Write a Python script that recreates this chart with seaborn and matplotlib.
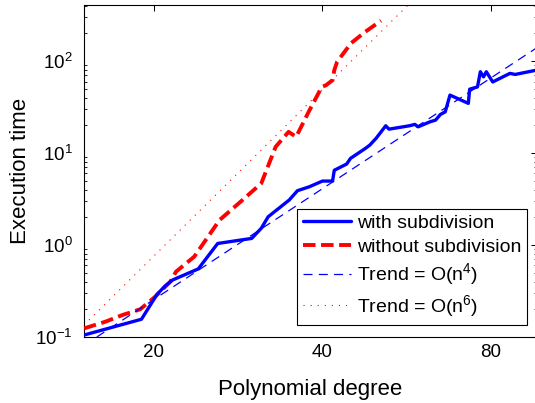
import numpy as np
import pandas as pd
import matplotlib
matplotlib.use('Agg')
import matplotlib.pyplot as plt
import seaborn as sns
from matplotlib.ticker import FixedLocator, FixedFormatter, LogLocator, NullLocator, NullFormatter

# ---- data ----
with_x = [15.0, 19.0, 20.25, 20.95, 21.6, 24.0, 26.0, 29.9, 31.1, 32.0,
          34.9, 36.1, 37.9, 40.0, 41.7, 42.0, 44.2, 44.9, 47.7, 48.6,
          49.9, 51.9, 52.6, 57.2, 58.5, 59.3, 62.3, 63.7, 65.0, 66.3,
          67.6, 72.9, 73.3, 75.7, 76.6, 77.6, 78.5, 80.6, 86.5, 88.4, 96.5]
with_y = [0.105, 0.156, 0.29, 0.36, 0.417, 0.55, 1.04, 1.18, 1.52, 2.03,
          3.09, 3.9, 4.3, 4.96, 4.96, 6.5, 7.6, 8.76, 11.2, 12.2,
          14.5, 19.8, 18.2, 19.8, 20.5, 19.3, 21.9, 22.8, 26.3, 28.1,
          42.7, 34.7, 49.5, 52.4, 76.6, 67.4, 76.6, 59.3, 73.5, 71.6, 79.7]

without_x = [15.0, 16.4, 17.6, 18.9, 20.1, 21.4, 21.9, 23.6, 26.2, 28.8,
             31.1, 33.0, 34.8, 35.9, 37.8, 39.9, 40.6, 41.7, 42.0, 42.5,
             44.5, 44.9, 47.7, 50.9]
without_y = [0.124, 0.147, 0.174, 0.2, 0.274, 0.4, 0.513, 0.746, 1.87, 3.09,
             4.68, 11.7, 17.0, 15.0, 28.1, 52.4, 54.7, 62.0, 79.7, 98.5,
             143, 155, 208, 275]

trend4_x = [15.0, 96.5]
trend4_y = [0.081, 139.0]
trend6_x = [15.0, 60.0]
trend6_y = [0.135, 560.0]

x_ticks = [20, 40, 80]
x_tick_labels = ['20', '40', '80']
series_labels = ['with subdivision', 'without subdivision',
                 'Trend = O(n$^4$)', 'Trend = O(n$^6$)']

# ---- style ----
sns.set_style('white')
plt.rcParams['font.family'] = ['Liberation Sans', 'DejaVu Sans']
plt.rcParams['mathtext.fontset'] = 'custom'
plt.rcParams['mathtext.rm'] = 'Liberation Sans'
plt.rcParams['mathtext.it'] = 'Liberation Sans:italic'
plt.rcParams['mathtext.default'] = 'regular'
plt.rcParams['lines.scale_dashes'] = False
plt.rcParams['text.color'] = 'black'
plt.rcParams['axes.labelcolor'] = 'black'
plt.rcParams['xtick.color'] = 'black'
plt.rcParams['ytick.color'] = 'black'

fig = plt.figure(figsize=(5.35, 4.03), dpi=100)
W, H = 535, 403
ax = fig.add_axes([84 / W, 66 / H, (536.5 - 84) / W, 332 / H])

df_with = pd.DataFrame({'x': with_x, 'y': with_y})
df_without = pd.DataFrame({'x': without_x, 'y': without_y})
df_t4 = pd.DataFrame({'x': trend4_x, 'y': trend4_y})
df_t6 = pd.DataFrame({'x': trend6_x, 'y': trend6_y})

sns.lineplot(data=df_with, x='x', y='y', ax=ax, sort=False, estimator=None,
             color='#0000ff', lw=2.4, label=series_labels[0], zorder=4)
sns.lineplot(data=df_without, x='x', y='y', ax=ax, sort=False, estimator=None,
             color='#ff0000', lw=2.8, label=series_labels[1], zorder=3)
sns.lineplot(data=df_t4, x='x', y='y', ax=ax, sort=False, estimator=None,
             color='#0000ff', lw=0.9, label=series_labels[2], zorder=5)
sns.lineplot(data=df_t6, x='x', y='y', ax=ax, sort=False, estimator=None,
             color='#ff0000', lw=0.8, label=series_labels[3], zorder=2)

lines = ax.get_lines()
lines[1].set_dashes([9.0, 4.0])
lines[2].set_dashes([6.5, 4.5])
lines[3].set_dashes([0.8, 4.3])

ax.set_xscale('log')
ax.set_yscale('log')
ax.set_xlim(15, 96.5)
ax.set_ylim(0.1, 10 ** 2.61)

ax.xaxis.set_major_locator(FixedLocator(x_ticks))
ax.xaxis.set_major_formatter(FixedFormatter(x_tick_labels))
ax.xaxis.set_minor_locator(NullLocator())
ax.xaxis.set_minor_formatter(NullFormatter())
ax.yaxis.set_major_locator(LogLocator(base=10, numticks=10))
ax.yaxis.set_minor_locator(LogLocator(base=10, subs=np.arange(2, 10), numticks=10))

ax.tick_params(axis='both', which='major', direction='in', length=4, width=0.75,
               top=True, right=True, labelsize=13.5, colors='black')
ax.tick_params(axis='y', which='minor', direction='in', length=2.2, width=0.6,
               left=True, right=True, colors='black')
ax.tick_params(axis='x', which='major', pad=5)
ax.tick_params(axis='y', which='major', pad=8)

for s in ax.spines.values():
    s.set_color('black')
    s.set_linewidth(0.8)
ax.spines['right'].set_visible(False)

ax.set_xlabel('Polynomial degree', fontsize=16, labelpad=13)
ax.set_ylabel('Execution time', fontsize=16, labelpad=3)

leg = ax.legend(loc='lower right', bbox_to_anchor=(527.3 / W, (H - 325) / H),
                bbox_transform=fig.transFigure, borderaxespad=0,
                frameon=True, fancybox=False, edgecolor='black', framealpha=1,
                fontsize=14, handlelength=2.5, handletextpad=0.3,
                borderpad=0.3, labelspacing=0.3)
leg.get_frame().set_linewidth(0.8)
for t in leg.get_texts():
    t.set_color('black')

fig.savefig('out.png', dpi=100)
